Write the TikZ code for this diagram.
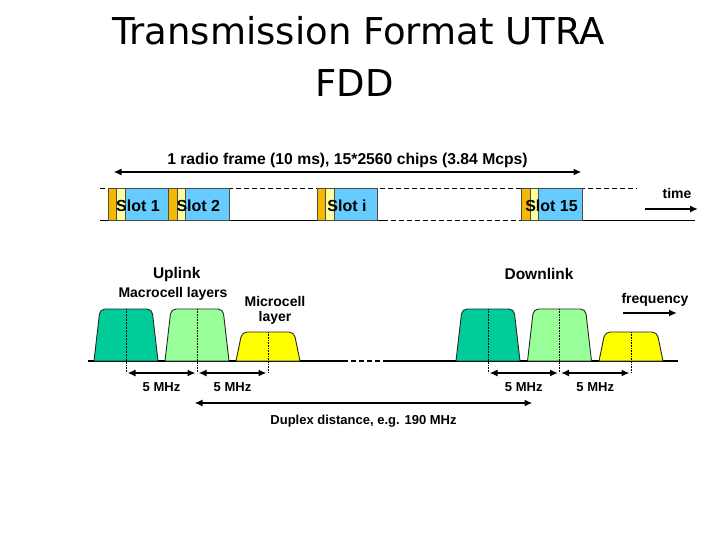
\documentclass[tikz,border=0pt]{standalone}
\usepackage{fontspec}
\setmainfont{Liberation Sans}
\newfontfamily\titlefont{DejaVu Sans}
\usepackage{tikz}
\usetikzlibrary{positioning,arrows.meta}
\definecolor{SlotGold}{HTML}{F5B800}
\definecolor{SlotCream}{HTML}{FFFF99}
\definecolor{SlotBlue}{HTML}{66CCFF}
\definecolor{BandDark}{HTML}{00CC99}
\definecolor{BandLight}{HTML}{99FF99}
\definecolor{BandYellow}{HTML}{FFFF00}
\tikzset{
  lbl/.style={inner sep=0pt,font=\bfseries\fontsize{#1}{#1}\selectfont},
  lbl/.default=14,
  dbl/.style={line width=1.8pt,{Latex[length=8pt,width=7pt]}-{Latex[length=8pt,width=7pt]},shorten <=1.5pt,shorten >=1.5pt},
  sgl/.style={line width=1.8pt,-{Latex[length=8pt,width=7pt]}},
  band/.style={draw=black!85,line width=0.9pt},
  slotbox/.style={draw=black!70,line width=0.4pt},
}
% one carrier: name, centre x, top y, colour
\newcommand\band[4]{%
  \draw[band,fill=#4] (#2-32,361) [rounded corners=5pt] -- (#2-26,#3) -- (#2+26,#3) [sharp corners] -- (#2+32,361) -- cycle;
  \coordinate (#1) at (#2,373);
  \draw[densely dotted,line width=0.6pt] (#2,#3) -- (#1);
}

\begin{document}
\begin{tikzpicture}[x=1pt,y=-1pt]
  \useasboundingbox (0,0) rectangle (720,540);
  \node[font=\titlefont\fontsize{37}{44}\selectfont,anchor=base] (title1) at (358.5,45) {Transmission Format UTRA};
  \node[font=\titlefont\fontsize{37}{44}\selectfont,anchor=base] (title2) at (354.5,97) {FDD};

  % time axis with slots
  \draw[line width=0.9pt,dash pattern=on 5pt off 3pt] (100,188) -- (637,188);
  \draw[line width=0.9pt] (100,220) -- (383,220);
  \draw[line width=0.9pt,dash pattern=on 5pt off 3pt] (383,220) -- (521.5,220);
  \draw[line width=0.9pt] (521.5,220) -- (695,220);
  \foreach \x/\n in {108/1,168.3/2,317/i,521.5/15}{
    \filldraw[slotbox,fill=SlotGold] (\x,188) rectangle +(8.5,32);
    \filldraw[slotbox,fill=SlotCream] (\x+8.5,188) rectangle +(8.5,32);
    \filldraw[slotbox,fill=SlotBlue] (\x+17,188) rectangle +(43.5,32);
    \node[lbl=16,anchor=base] (slot\n) at (\x+30,211.7) {Slot \n};
  }
  \coordinate (fs) at (112,172);
  \coordinate (fe) at (583,172);
  \draw[dbl] (fs) -- (fe) node[midway,above=3pt,lbl=15.7] (frame) {1 radio frame (10 ms), 15*2560 chips (3.84 Mcps)};
  \coordinate (ts) at (645,209);
  \coordinate (te) at (698,209);
  \draw[sgl] (ts) -- (te);
  \node[lbl=14,anchor=base] (time) at (677,198.3) {time};

  % frequency axis
  \draw[line width=1.2pt] (88,361) -- (343,361);
  \draw[line width=1.2pt,dash pattern=on 5pt off 3pt] (343,361) -- (380,361);
  \draw[line width=1.2pt] (383,361) -- (678,361);
  \band{u1}{126}{309}{BandDark}
  \band{u2}{197}{309}{BandLight}
  \band{u3}{268}{332}{BandYellow}
  \band{d1}{488}{309}{BandDark}
  \band{d2}{559.5}{309}{BandLight}
  \band{d3}{631}{332}{BandYellow}
  \node[lbl=15.5,anchor=base] (uplink) at (176.7,278.3) {Uplink};
  \node[lbl=14,anchor=base] (macro) at (173,297.3) {Macrocell layers};
  \node[lbl=14,anchor=base] (micro1) at (275,306.7) {Microcell};
  \node[lbl=14,anchor=base] (micro2) at (275,321.7) {layer};
  \node[lbl=15.5,anchor=base] (downlink) at (539,279) {Downlink};
  \node[lbl=14,anchor=base] (freq) at (655,303.3) {frequency};
  \coordinate (fqs) at (623,313);
  \coordinate (fqe) at (677,313);
  \draw[sgl] (fqs) -- (fqe);
  \foreach \a/\b in {u1/u2,u2/u3,d1/d2,d2/d3}{
    \draw[dbl] (\a) -- (\b) node[midway,below=9pt,lbl=13] {5 MHz};
  }
  \coordinate (dxs) at (193,403);
  \coordinate (dxe) at (534,403);
  \draw[dbl] (dxs) -- (dxe) node[midway,below=11pt,lbl=13] (duplex) {Duplex distance, e.g. 190 MHz};
\end{tikzpicture}
\end{document}
